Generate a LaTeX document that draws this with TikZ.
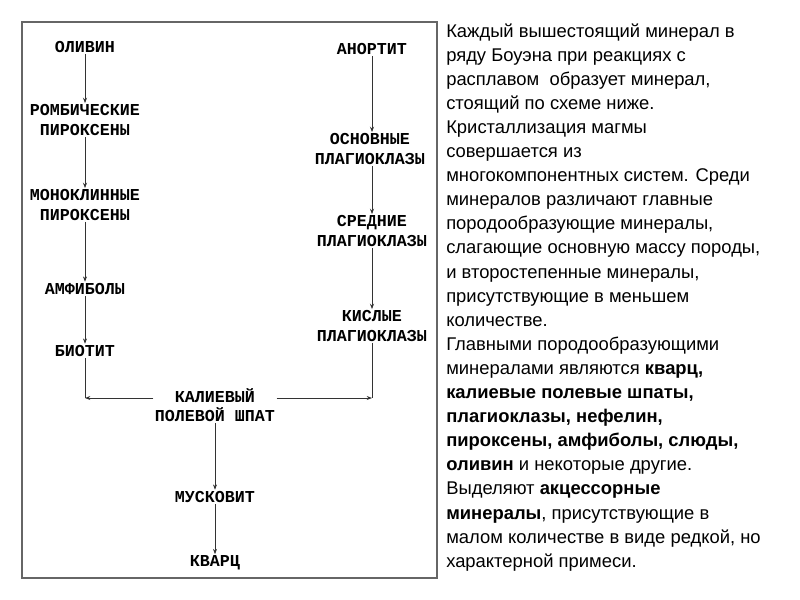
\documentclass[tikz,border=0pt]{standalone}
\usepackage{fontspec}
\setmainfont{Liberation Sans}
\newfontfamily\diafont{Liberation Mono}
\usetikzlibrary{arrows.meta}
\begin{document}
\begin{tikzpicture}[x=0.75pt,y=-0.75pt,
  min/.style={font=\diafont\bfseries\fontsize{12.5}{14.5}\selectfont,align=center,inner sep=1pt},
  arr/.style={draw=black!80,-{Stealth[length=4pt,width=3pt]},line width=0.5pt},
  ln/.style={draw=black!80,line width=0.5pt},
  txt/.style={anchor=base west,inner sep=0pt,font=\fontsize{13.8}{15}\selectfont}]
\useasboundingbox (0,0) rectangle (800,600);
\draw[black!60,line width=0.8pt] (22,22) rectangle (437,578);
\node[min] (ol) at (85,47) {ОЛИВИН};
\node[min] (rp) at (85,120) {РОМБИЧЕСКИЕ\\ПИРОКСЕНЫ};
\node[min] (mp) at (85,205) {МОНОКЛИННЫЕ\\ПИРОКСЕНЫ};
\node[min] (am) at (85,289) {АМФИБОЛЫ};
\node[min] (bi) at (85,351) {БИОТИТ};
\node[min] (an) at (372,49) {АНОРТИТ};
\node[min] (os) at (370,149) {ОСНОВНЫЕ\\ПЛАГИОКЛАЗЫ};
\node[min] (sr) at (372,231) {СРЕДНИЕ\\ПЛАГИОКЛАЗЫ};
\node[min] (ki) at (372,326) {КИСЛЫЕ\\ПЛАГИОКЛАЗЫ};
\node[min] (kp) at (215,405) {КАЛИЕВЫЙ\\ПОЛЕВОЙ ШПАТ};
\node[min] (mu) at (215,497) {МУСКОВИТ};
\node[min] (kv) at (215,563) {КВАРЦ};
\coordinate (cl) at (85,398);
\coordinate (cr) at (372,398);
\draw[arr] (ol) -- (rp);
\draw[arr] (rp) -- (mp);
\draw[arr] (mp) -- (am);
\draw[arr] (am) -- (bi);
\draw[arr] (an) -- (an |- os.north);
\draw[arr] (os.south -| an) -- (sr.north -| an);
\draw[arr] (sr.south -| an) -- (ki.north -| an);
\draw[ln] (ki.south -| an) -- (cr);
\draw[ln] (bi) -- (cl);
\draw[arr] (kp.west |- cl) -- (cl);
\draw[arr] (kp.east |- cr) -- (cr);
\draw[arr] (kp) -- (mu);
\draw[arr] (mu) -- (kv);
\foreach \i/\t in {
0/{Каждый вышестоящий минерал в},
1/{ряду Боуэна при реакциях с},
2/{расплавом\ \ образует минерал,},
3/{стоящий по схеме ниже.},
4/{Кристаллизация магмы},
5/{совершается из},
6/{многокомпонентных систем. Среди},
7/{минералов различают главные},
8/{породообразующие минералы,},
9/{слагающие основную массу породы,},
10/{и второстепенные минералы,},
11/{присутствующие в меньшем},
12/{количестве.},
13/{Главными породообразующими},
14/{минералами являются \textbf{кварц,}},
15/{\textbf{калиевые полевые шпаты,}},
16/{\textbf{плагиоклазы, нефелин,}},
17/{\textbf{пироксены, амфиболы, слюды,}},
18/{\textbf{оливин} и некоторые другие.},
19/{Выделяют \textbf{акцессорные}},
20/{\textbf{минералы}, присутствующие в},
21/{малом количестве в виде редкой, но},
22/{характерной примеси.}}
  \node[txt] (t\i) at (446,{37+\i*24.1}) {\t};
\end{tikzpicture}
\end{document}
